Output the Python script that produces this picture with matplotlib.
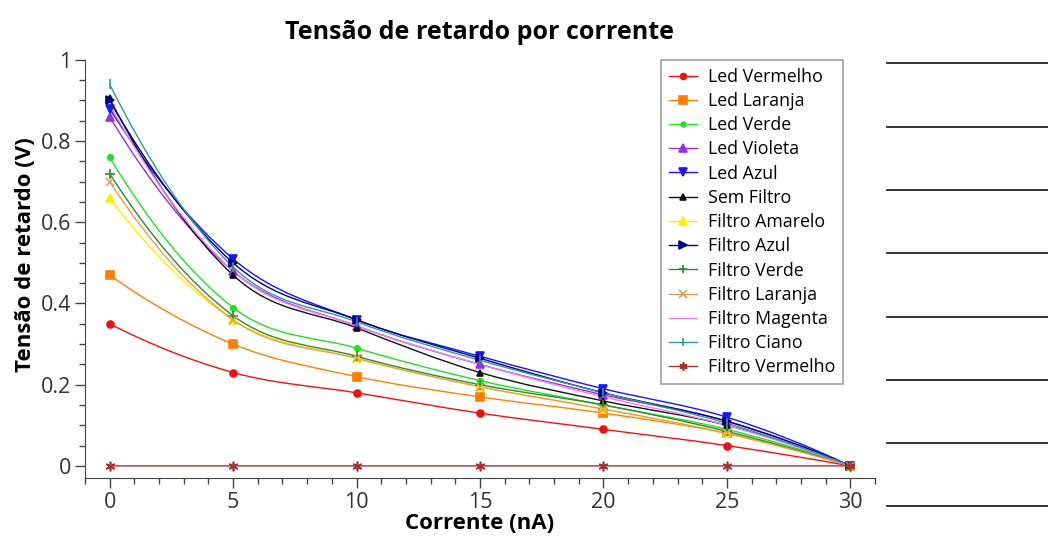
import numpy as np
import matplotlib.pyplot as plt
from matplotlib.path import Path
from matplotlib.patches import PathPatch
from matplotlib.lines import Line2D
from matplotlib.ticker import MultipleLocator

plt.rcParams['font.family'] = ['Open Sans', 'DejaVu Sans']

# corrente (nA)
corrente = [0, 5, 10, 15, 20, 25, 30]

# tensao de retardo (V) por serie
led_vermelho = [0.35, 0.23, 0.18, 0.13, 0.09, 0.05, 0.0]
led_laranja = [0.47, 0.30, 0.22, 0.17, 0.13, 0.08, 0.0]
led_verde = [0.76, 0.39, 0.29, 0.21, 0.15, 0.09, 0.0]
led_violeta = [0.86, 0.48, 0.345, 0.25, 0.175, 0.11, 0.0]
led_azul = [0.88, 0.51, 0.36, 0.27, 0.19, 0.12, 0.0]
sem_filtro = [0.905, 0.47, 0.34, 0.23, 0.16, 0.10, 0.0]
filtro_amarelo = [0.66, 0.36, 0.265, 0.195, 0.14, 0.08, 0.0]
filtro_azul = [0.90, 0.50, 0.36, 0.265, 0.18, 0.11, 0.0]
filtro_verde = [0.72, 0.37, 0.27, 0.20, 0.15, 0.085, 0.0]
filtro_laranja = [0.70, 0.36, 0.265, 0.195, 0.14, 0.08, 0.0]
filtro_magenta = [0.89, 0.48, 0.345, 0.25, 0.17, 0.10, 0.0]
filtro_ciano = [0.94, 0.49, 0.355, 0.26, 0.18, 0.105, 0.0]
filtro_vermelho = [0, 0, 0, 0, 0, 0, 0]

series = [
    ('Led Vermelho', led_vermelho, '#ee1111', 'o', 5),
    ('Led Laranja', led_laranja, '#ff8000', 's', 6),
    ('Led Verde', led_verde, '#22e022', 'o', 4),
    ('Led Violeta', led_violeta, '#9a2de0', '^', 6),
    ('Led Azul', led_azul, '#1515ff', 'v', 6),
    ('Sem Filtro', sem_filtro, '#111111', '^', 5),
    ('Filtro Amarelo', filtro_amarelo, '#ffee00', '^', 6),
    ('Filtro Azul', filtro_azul, '#000080', '>', 6),
    ('Filtro Verde', filtro_verde, '#2e8b2e', '+', 7),
    ('Filtro Laranja', filtro_laranja, '#e0a050', 'x', 6),
    ('Filtro Magenta', filtro_magenta, '#ee80ee', '', 0),
    ('Filtro Ciano', filtro_ciano, '#2e9a9a', '|', 7),
    ('Filtro Vermelho', filtro_vermelho, '#a83030', (6, 2, 0), 7),
]


def smooth_path(x, y):
    # catmull-rom (diferencas centrais), desenhada como bezier
    x = np.asarray(x, float)
    y = np.asarray(y, float)
    n = len(x)
    h = np.diff(x)
    d = np.diff(y) / h
    m = np.zeros(n)
    for i in range(1, n - 1):
        m[i] = (y[i + 1] - y[i - 1]) / (x[i + 1] - x[i - 1])
    m[0] = 2 * d[0] - m[1]
    m[-1] = 2 * d[-1] - m[-2]
    verts = [(x[0], y[0])]
    codes = [Path.MOVETO]
    for i in range(n - 1):
        verts += [(x[i] + h[i] / 3, y[i] + m[i] * h[i] / 3),
                  (x[i + 1] - h[i] / 3, y[i + 1] - m[i + 1] * h[i] / 3),
                  (x[i + 1], y[i + 1])]
        codes += [Path.CURVE4] * 3
    return Path(verts, codes)


fig = plt.figure(figsize=(10.48, 5.39), dpi=100)
ax = fig.add_axes([0.081, 0.113, 0.754, 0.776])

handles = []
for name, vals, col, mk, ms in series:
    ax.add_patch(PathPatch(smooth_path(corrente, vals), fill=False, ec=col, lw=1))
    if mk:
        ax.plot(corrente, vals, ls='none', marker=mk, color=col, ms=ms, mew=1.2)
    handles.append(Line2D([], [], color=col, lw=1, marker=mk if mk else None, ms=ms * 0.85, mew=1.2))

ax.set_xlim(-1, 31)
ax.set_ylim(-0.03, 1.0)
ax.xaxis.set_major_locator(MultipleLocator(5))
ax.xaxis.set_minor_locator(MultipleLocator(1))
ax.yaxis.set_minor_locator(MultipleLocator(0.05))
ax.set_yticks([0, 0.2, 0.4, 0.6, 0.8, 1.0])
ax.set_yticklabels(['0', '0.2', '0.4', '0.6', '0.8', '1'])
ax.tick_params(which='major', length=7, width=1, color='#444444', labelsize=15.5,
               labelcolor='#333333', pad=3)
ax.tick_params(which='minor', length=4, width=1, color='#444444')
for s in ['top', 'right']:
    ax.spines[s].set_visible(False)
for s in ['left', 'bottom']:
    ax.spines[s].set_color('#444444')

ax.set_title('Tensão de retardo por corrente', fontsize=18, fontweight='bold', pad=15)
ax.set_xlabel('Corrente (nA)', fontsize=16, fontweight='bold', labelpad=0)
ax.set_ylabel('Tensão de retardo (V)', fontsize=16, fontweight='bold', labelpad=2)
ax.yaxis.set_label_coords(-0.062, 0.535)

leg = ax.legend(handles, [s[0] for s in series], loc='upper right', bbox_to_anchor=(0.96, 1.0),
                fontsize=12.8, frameon=True, fancybox=False, labelspacing=0.35,
                handlelength=1.6, borderpad=0.45, handletextpad=0.6, borderaxespad=0)
leg.get_frame().set_edgecolor('#888888')
leg.get_frame().set_linewidth(1.2)

# linhas do caderno a direita
linhas_caderno = [63, 127, 190, 253, 317, 380, 443, 506]
for yp in linhas_caderno:
    fig.add_artist(Line2D([887 / 1048, 1], [1 - yp / 539, 1 - yp / 539], color='#222222', lw=1.3))

fig.savefig('out.png', dpi=100)
